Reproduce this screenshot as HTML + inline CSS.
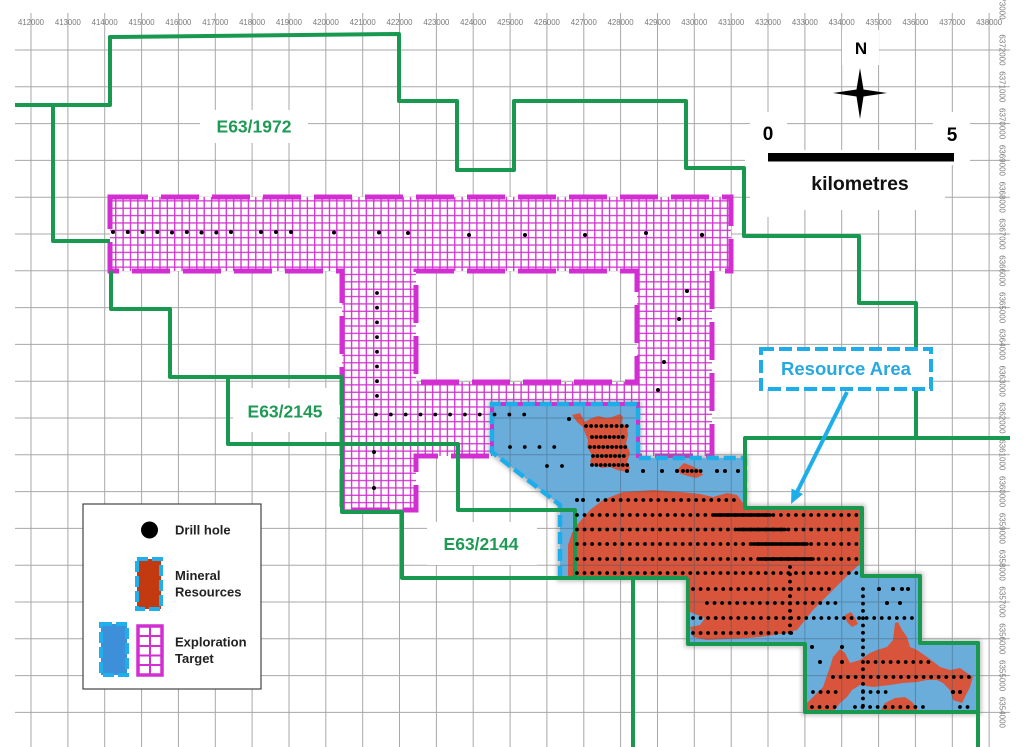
<!DOCTYPE html>
<html><head><meta charset="utf-8"><style>
html,body{margin:0;padding:0;background:#fff;}
svg{display:block;font-family:"Liberation Sans",Arial,sans-serif;}
</style></head><body>
<svg width="1024" height="747" viewBox="0 0 1024 747" xmlns="http://www.w3.org/2000/svg">
<defs>
<pattern id="ph" x="31" y="50" width="7.37" height="7.36" patternUnits="userSpaceOnUse">
<rect width="7.37" height="7.36" fill="#fff"/>
<path d="M3.68 0V7.36M0 3.68H7.37" stroke="#d02fd0" stroke-width="1.3" fill="none"/>
</pattern>
<clipPath id="bc"><path d="M492,404 H638 V458 H745 V508 H862 V576 H920 V643 H978 V712 H805 V644 H688 V578 H560 V505 L492,452 Z"/></clipPath>
<filter id="bl" x="-10%" y="-10%" width="120%" height="120%"><feGaussianBlur stdDeviation="2"/></filter>
</defs>
<rect width="1024" height="747" fill="#fff"/>

<!-- grid -->
<g id="grid" stroke="#a8a8a8" stroke-width="1" fill="none">
<path d="M31 13V747M67.9 13V747M104.7 13V747M141.6 13V747M178.4 13V747M215.3 13V747M252.1 13V747M289 13V747M325.8 13V747M362.7 13V747M399.5 13V747M436.4 13V747M473.2 13V747M510.1 13V747M546.9 13V747M583.8 13V747M620.6 13V747M657.5 13V747M694.3 13V747M731.2 13V747M768 13V747M804.9 13V747M841.7 13V747M878.6 13V747M915.4 13V747M952.3 13V747M989.1 13V747"/>
<path d="M15 50H1010M15 86.8H1010M15 123.6H1010M15 160.4H1010M15 197.2H1010M15 234H1010M15 270.8H1010M15 307.6H1010M15 344.4H1010M15 381.2H1010M15 418H1010M15 454.8H1010M15 491.6H1010M15 528.4H1010M15 565.2H1010M15 602H1010M15 638.8H1010M15 675.6H1010M15 712.4H1010"/>
</g>

<!-- axis labels -->
<g font-size="7.8" fill="#7a7a7a" text-anchor="middle">
<text x="31" y="25">412000</text><text x="67.9" y="25">413000</text><text x="104.7" y="25">414000</text><text x="141.6" y="25">415000</text><text x="178.4" y="25">416000</text><text x="215.3" y="25">417000</text><text x="252.1" y="25">418000</text><text x="289" y="25">419000</text><text x="325.8" y="25">420000</text><text x="362.7" y="25">421000</text><text x="399.5" y="25">422000</text><text x="436.4" y="25">423000</text><text x="473.2" y="25">424000</text><text x="510.1" y="25">425000</text><text x="546.9" y="25">426000</text><text x="583.8" y="25">427000</text><text x="620.6" y="25">428000</text><text x="657.5" y="25">429000</text><text x="694.3" y="25">430000</text><text x="731.2" y="25">431000</text><text x="768" y="25">432000</text><text x="804.9" y="25">433000</text><text x="841.7" y="25">434000</text><text x="878.6" y="25">435000</text><text x="915.4" y="25">436000</text><text x="952.3" y="25">437000</text><text x="989.1" y="25">438000</text>
</g>
<g font-size="8" fill="#7a7a7a" text-anchor="middle" dominant-baseline="central">
<text transform="translate(1002 4) rotate(90)">6373000</text>
<text transform="translate(1002 50) rotate(90)">6372000</text>
<text transform="translate(1002 86.8) rotate(90)">6371000</text>
<text transform="translate(1002 123.6) rotate(90)">6370000</text>
<text transform="translate(1002 160.4) rotate(90)">6369000</text>
<text transform="translate(1002 197.2) rotate(90)">6368000</text>
<text transform="translate(1002 234) rotate(90)">6367000</text>
<text transform="translate(1002 270.8) rotate(90)">6366000</text>
<text transform="translate(1002 307.6) rotate(90)">6365000</text>
<text transform="translate(1002 344.4) rotate(90)">6364000</text>
<text transform="translate(1002 381.2) rotate(90)">6363000</text>
<text transform="translate(1002 418) rotate(90)">6362000</text>
<text transform="translate(1002 454.8) rotate(90)">6361000</text>
<text transform="translate(1002 491.6) rotate(90)">6360000</text>
<text transform="translate(1002 528.4) rotate(90)">6359000</text>
<text transform="translate(1002 565.2) rotate(90)">6358000</text>
<text transform="translate(1002 602) rotate(90)">6357000</text>
<text transform="translate(1002 638.8) rotate(90)">6356000</text>
<text transform="translate(1002 675.6) rotate(90)">6355000</text>
<text transform="translate(1002 712.4) rotate(90)">6354000</text>
</g>

<!-- white label boxes -->
<g fill="#fff">
<rect x="200" y="110" width="108" height="33"/>
<rect x="233" y="388" width="104" height="44"/>
<rect x="427" y="522" width="110" height="43"/>
<rect x="842" y="30" width="37" height="35"/>
<rect x="750" y="112" width="37" height="105"/>
<rect x="933" y="112" width="37" height="50"/>
<rect x="745" y="150" width="215" height="15"/>
<rect x="775" y="164" width="170" height="46"/>
</g>

<!-- pink exploration target -->
<path d="M110,197 H731 V271 H712 V456 H416 V510 H342 V271 H110 Z M416,271 H637 V382 H416 Z" fill="url(#ph)" fill-rule="evenodd"/>
<path d="M110,197 H731 V271 H712 V456 H416 V510 H342 V271 H110 Z M416,271 H637 V382 H416 Z" fill="none" stroke="#d22ed2" stroke-width="5" stroke-dasharray="38 13"/>

<!-- shadow under resource area -->
<path d="M560,578 V505 L492,452 V404 H638 V458 H745 V508 H862 V576 H920 V643 H978 V712 H805 V644 H688 V578 Z" fill="none" stroke="#777" stroke-width="7" opacity="0.45" filter="url(#bl)"/>

<!-- blue exploration target -->
<path d="M492,404 H638 V458 H745 V508 H862 V576 H920 V643 H978 V712 H805 V644 H688 V578 H560 V505 L492,452 Z" fill="#6badda"/>

<!-- red mineral resources -->
<g fill="#d8543a">
<path d="M572,415 L580,413 L585,422 L592,418 L598,416 L607,418 L612,417 L620,414 L623,417 L622,423 L627,427 L628,435 L626,443 L630,453 L627,462 L630,468 L627,472 L617,470 L610,467 L602,468 L595,465 L590,462 L592,455 L587,447 L588,440 L585,433 L583,427 L577,422 Z"/>
<path d="M677,470 L684,463 L692,466 L700,470 L703,475 L696,478 L688,476 L681,474 Z"/>
<path d="M568,578 L568,545 L572,533 L577,525 L590,510 L603,500 L623,492 L653,490 L680,492 L700,494 L713,497 L727,493 L737,495 L743,503 L750,508 L862,508 L862,562 L850,573 L833,590 L813,610 L797,630 L787,633 L760,637 L747,638 L707,640 L693,637 L690,627 L700,625 L705,618 L690,612 L688,578 Z"/>
<path d="M807,703 L817,693 L823,687 L830,667 L833,657 L840,649 L845,653 L850,663 L860,660 L870,653 L877,650 L887,647 L893,640 L895,623 L898,622 L902,630 L907,637 L910,647 L917,650 L927,657 L935,663 L940,667 L950,670 L960,668 L967,673 L973,677 L970,687 L965,697 L962,703 L953,700 L950,690 L943,683 L937,680 L927,680 L917,682 L903,683 L890,685 L873,687 L860,685 L852,690 L847,697 L840,703 L833,712 L807,712 Z"/>
<path d="M880,712 L885,703 L895,698 L905,697 L912,702 L917,708 L917,712 Z"/>
<path d="M845,615 L851,612 L855,618 L858,624 L852,627 L847,622 Z"/>
</g>

<!-- grid overlay on blue/red -->
<g clip-path="url(#bc)" stroke="#3f5a70" stroke-width="1" opacity="0.45" fill="none">
<path d="M510.1 380V747M546.9 380V747M583.8 380V747M620.6 380V747M657.5 380V747M694.3 380V747M731.2 380V747M768 380V747M804.9 380V747M841.7 380V747M878.6 380V747M915.4 380V747M952.3 380V747"/>
<path d="M480 418H1000M480 454.8H1000M480 491.6H1000M480 528.4H1000M480 565.2H1000M480 602H1000M480 638.8H1000M480 675.6H1000"/>
</g>

<!-- blue dashed border (with magenta underlay on top part) -->
<path d="M492,452 V404 H638 V458" fill="none" stroke="#d22ed2" stroke-width="4"/>
<path d="M560,578 V505 L492,452 V404 H638 V458 H745 V508" fill="none" stroke="#1daeea" stroke-width="4.5" stroke-dasharray="12 5"/>

<!-- green tenement boundaries -->
<g fill="none" stroke="#18994f" stroke-width="4" stroke-linejoin="round">
<path d="M15,105 H110 V37 L399,34 V101 H457 V170 H514 V101 H686 V168 H744 V236 H859 V303 H916 V438"/>
<path d="M53,105 V241 H110"/>
<path d="M111,271 V309 H170 V377 H342 V512 H402 V578 H688"/>
<path d="M228,377 V444 H458 V510 H575 V578"/>
<path d="M688,578 V644 H805 V712 H978 V643 H920 V576 H862 V508 H745 V438 H1010"/>
<path d="M633,578 V747"/>
<path d="M978,712 V747"/>
</g>

<!-- drill holes -->
<g fill="#000">
<circle cx="113" cy="232" r="2"/><circle cx="127.8" cy="232" r="2"/><circle cx="142.5" cy="232" r="2"/><circle cx="157.3" cy="232" r="2"/><circle cx="172" cy="232.5" r="2"/><circle cx="186.8" cy="232" r="2"/><circle cx="201.5" cy="232.5" r="2"/><circle cx="216.3" cy="232.5" r="2"/><circle cx="231" cy="232" r="2"/>
<circle cx="261" cy="232" r="2"/><circle cx="276" cy="232" r="2"/><circle cx="291" cy="232" r="2"/><circle cx="334" cy="232.5" r="2"/><circle cx="379" cy="232.5" r="2"/><circle cx="408" cy="233" r="2"/>
<circle cx="469" cy="235" r="2"/><circle cx="525" cy="235" r="2"/><circle cx="585" cy="235" r="2"/><circle cx="646" cy="233" r="2"/><circle cx="702" cy="235" r="2.2"/>
<circle cx="687" cy="291" r="2"/><circle cx="679" cy="319" r="2"/><circle cx="664" cy="362" r="2"/><circle cx="658" cy="390" r="2"/>
<circle cx="374" cy="452" r="2"/><circle cx="374" cy="488" r="2"/>
<circle cx="569" cy="419" r="2"/>
<circle cx="627" cy="471" r="2"/><circle cx="643" cy="471" r="2"/><circle cx="662" cy="471" r="2"/><circle cx="677" cy="471" r="2"/><circle cx="717" cy="471" r="2"/><circle cx="725" cy="471" r="2"/><circle cx="738" cy="471" r="2"/>
<circle cx="577" cy="500" r="2"/><circle cx="583" cy="500" r="2"/>
<circle cx="879" cy="589" r="2"/><circle cx="893" cy="589" r="2"/><circle cx="902" cy="589" r="2"/><circle cx="908" cy="589" r="2"/>
<circle cx="887" cy="603" r="2"/><circle cx="900" cy="603" r="2"/>
<circle cx="812" cy="647" r="2"/><circle cx="842" cy="647" r="2"/>
<circle cx="820" cy="662" r="2"/><circle cx="842" cy="662" r="2"/>
<circle cx="953" cy="692" r="2"/><circle cx="960" cy="692" r="2"/>
</g>
<g stroke="#000" stroke-width="3.8" stroke-linecap="round" fill="none">
<path d="M377,293 V396" stroke-dasharray="0 14.7"/>
<path d="M376,414.5 H539" stroke-dasharray="0 14.82"/>
<path d="M510,447 H569" stroke-dasharray="0 14.75"/>
<path d="M547,466 H577" stroke-dasharray="0 15"/>
<path d="M586,426 H627" stroke-dasharray="0 5.1"/>
<path d="M592,437 H627M590,447 H627M593,456 H627M592,465 H628M683,471 H703" stroke-dasharray="0 4.4"/>
<path d="M598,500 H740" stroke-dasharray="0 7.55"/>
<path d="M577,515 H860M577,529.5 H860M577,544 H860M577,559 H860M577,573 H860" stroke-dasharray="0 7.55"/>
<path d="M693,589 H830M707,603 H837M693,618 H917M693,633 H798" stroke-dasharray="0 7.55"/>
<path d="M790,567 V633M863,589 V707" stroke-dasharray="0 7.3"/>
<path d="M868,662 H930M833,677 H973M813,692 H842M863,692 H893M812,707 H842M855,707 H923M960,707 H973" stroke-dasharray="0 7.55"/>
<path d="M715,515 H770M738,529.5 H785M753,544 H807M760,559 H813" stroke-width="3.6"/>
</g>

<!-- tenement labels -->
<g font-weight="bold" font-size="17.5" fill="#1f9a55" text-anchor="middle">
<text x="254" y="132.5">E63/1972</text>
<text x="285" y="417.5">E63/2145</text>
<text x="481" y="550">E63/2144</text>
</g>

<!-- resource area callout -->
<line x1="847" y1="392" x2="796" y2="494" stroke="#1daeea" stroke-width="4"/>
<polygon points="791,504 803,494 791.5,488.5" fill="#1daeea"/>
<rect x="761" y="349" width="170" height="40" fill="#fff" stroke="#1daeea" stroke-width="4" stroke-dasharray="13 5"/>
<text x="846" y="375" text-anchor="middle" font-weight="bold" font-size="18.5" fill="#27a8e0">Resource Area</text>

<!-- north + scale -->
<text x="861" y="54" text-anchor="middle" font-weight="bold" font-size="17" fill="#000">N</text>
<path d="M860,68 L863.5,89.5 L887,93 L863.5,96.5 L860,119 L856.5,96.5 L833,93 L856.5,89.5 Z" fill="#000"/>
<text x="768" y="140" text-anchor="middle" font-weight="bold" font-size="19" fill="#000">0</text>
<text x="952" y="141" text-anchor="middle" font-weight="bold" font-size="19" fill="#000">5</text>
<rect x="768" y="153" width="186" height="8.5" fill="#000"/>
<text x="860" y="190" text-anchor="middle" font-weight="bold" font-size="19.5" fill="#111">kilometres</text>

<!-- legend -->
<rect x="83" y="504" width="178" height="185" fill="#fff" stroke="#444" stroke-width="1.2"/>
<circle cx="149.5" cy="530" r="8.5" fill="#000"/>
<rect x="137" y="559" width="24" height="50" fill="#c43a10" stroke="#1eb0ec" stroke-width="4" stroke-dasharray="11 4"/>
<rect x="101" y="624" width="26" height="51" fill="#3c8fd8" stroke="#1eb0ec" stroke-width="4" stroke-dasharray="11 4"/>
<rect x="138" y="626" width="24" height="49" fill="#fff" stroke="#d22ed2" stroke-width="3.5"/>
<path d="M150,626 V675 M138,636 H162 M138,646 H162 M138,655.5 H162 M138,665 H162" stroke="#d22ed2" stroke-width="2" fill="none"/>
<g font-weight="bold" font-size="13" fill="#222">
<text x="175" y="534.5">Drill hole</text>
<text x="175" y="580">Mineral</text>
<text x="175" y="596.5">Resources</text>
<text x="175" y="646.5">Exploration</text>
<text x="175" y="663">Target</text>
</g>
</svg>
</body></html>
